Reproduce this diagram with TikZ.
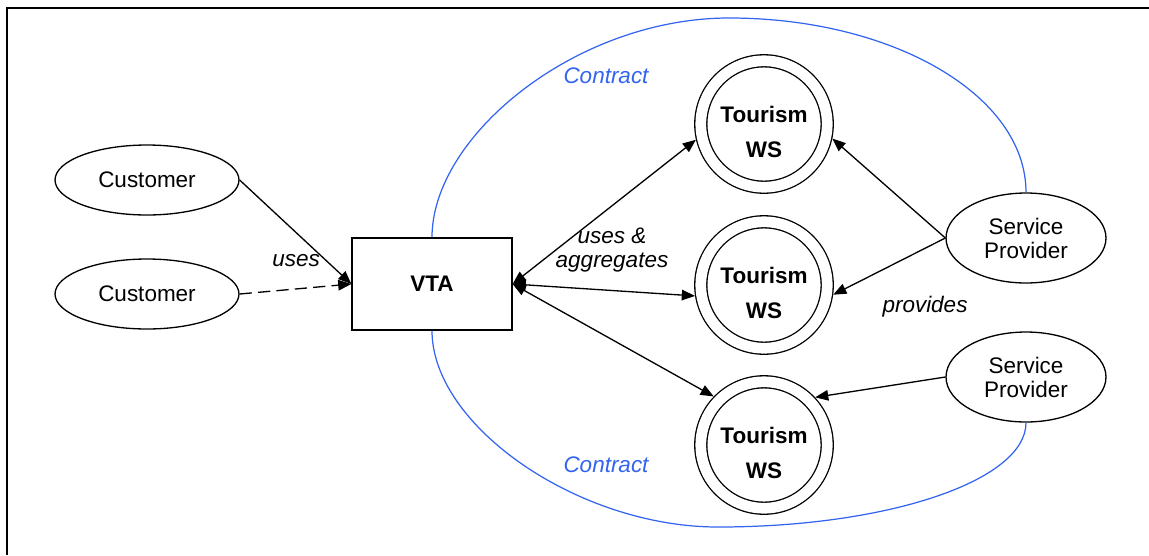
\documentclass[tikz,border=0pt]{standalone}
\usepackage{fontspec}
\setmainfont{Liberation Sans}
\usetikzlibrary{shapes.geometric,arrows.meta}
\definecolor{contractblue}{RGB}{50,100,240}
\begin{document}
\begin{tikzpicture}[x=0.02cm,y=-0.02cm,line width=0.75pt,
    every node/.style={font=\fontsize{12.8}{13.7}\selectfont},
    party node/.style={ellipse,draw,fill=white,inner sep=0pt,align=center},
    ws node/.style={circle,draw,double,double distance=6.1pt,fill=white,minimum size=2.48cm,outer sep=3.8pt,
        align=center,text height=38.6pt,text depth=0pt,font=\fontsize{12.8}{20}\selectfont\bfseries},
    onearrow/.style={-{Triangle[length=7.5pt,width=6pt]}},
    twoarrows/.style={{Triangle[length=7.5pt,width=6pt]}-{Triangle[length=7.5pt,width=6pt]}},
    label text/.style={font=\fontsize{12.8}{13.7}\selectfont\itshape,align=center},
    contract line/.style={draw=contractblue,line width=0.7pt}]
    \useasboundingbox (0,0) rectangle (1149,555);
    \draw[line width=1.1pt] (1149,8) -- (7,8) -- (7,555);

    \node[party node,minimum width=3.68cm,minimum height=1.4cm] at (147,180) (cust1) {Customer};
    \node[party node,minimum width=3.68cm,minimum height=1.4cm] at (147,294) (cust2) {Customer};
    \node[draw,fill=white,minimum width=3.2cm,minimum height=1.84cm,font=\fontsize{12.8}{13.7}\selectfont\bfseries] at (432,284) (vta) {VTA};
    \node[ws node] at (764,124) (ws1) {Tourism\\WS};
    \node[ws node] at (764,285) (ws2) {Tourism\\WS};
    \node[ws node] at (764,445) (ws3) {Tourism\\WS};
    \node[party node,minimum width=3.2cm,minimum height=1.8cm] at (1026,238) (sp1) {Service\\Provider};
    \node[party node,minimum width=3.2cm,minimum height=1.8cm] at (1026,377) (sp2) {Service\\Provider};

    % contract boundary
    \coordinate (ctop) at (729,18);
    \coordinate (cbot) at (718,527);
    \path[contract line] (vta.north) .. controls +(0,-102) and +(-152,0) .. (ctop)
        .. controls +(164,0) and +(0,-97) .. (sp1.north);
    \path[contract line] (sp2.south) .. controls +(0,58) and +(170,0) .. (cbot)
        .. controls +(-140,0) and +(0,95) .. (vta.south);

    \path[onearrow]
        (cust1.east) edge (vta.west)
        (cust2.east) edge[dash pattern=on 7pt off 3.5pt] (vta.west)
        (sp1.west) edge (ws1.348)
        (sp1.west) edge (ws2.352)
        (sp2.west) edge (ws3.43)
        ;
    \path[twoarrows]
        (vta.east) edge (ws1.193)
        (vta.east) edge (ws2.189)
        (vta.east) edge (ws3.136)
        ;

    \node[label text] at (296,261) (useslbl) {uses};
    \node[label text] at (612,250) (aggrlbl) {uses \&\\aggregates};
    \node[label text] at (925,307) (provlbl) {provides};
    \node[label text,text=contractblue] at (606,76) (contract1) {Contract};
    \node[label text,text=contractblue] at (606,465) (contract2) {Contract};
\end{tikzpicture}
\end{document}
